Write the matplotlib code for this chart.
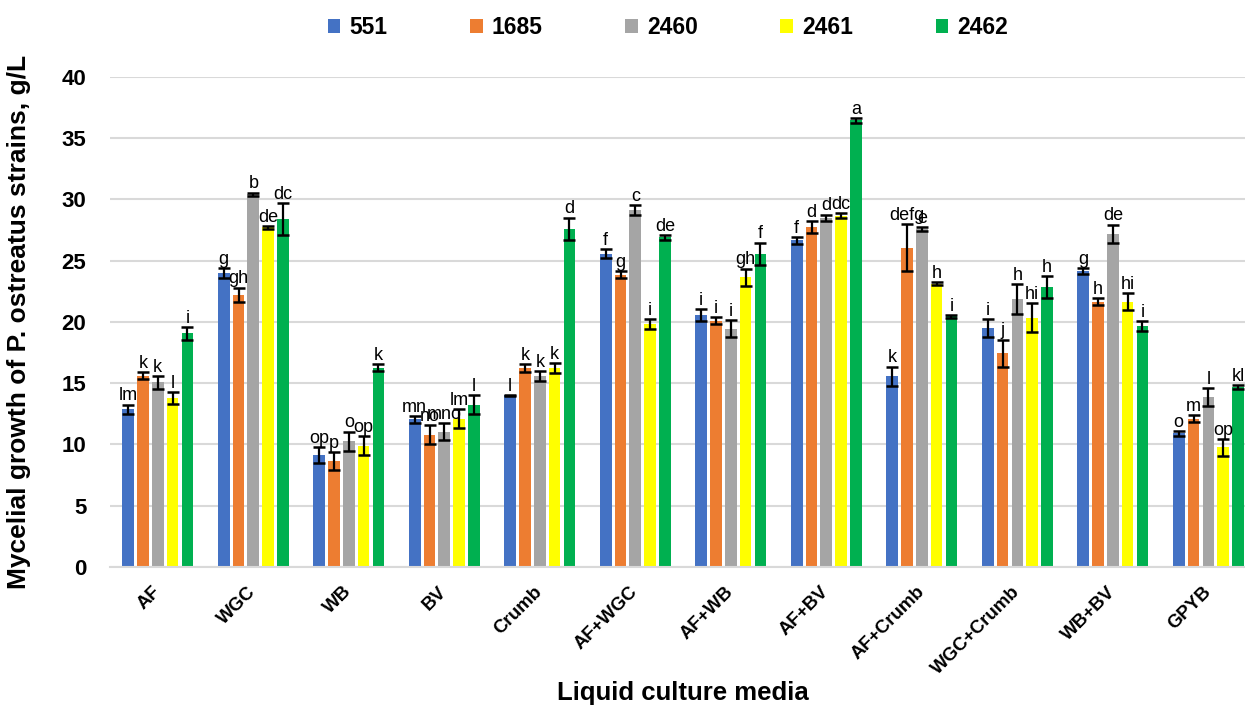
import numpy as np
import matplotlib
matplotlib.use("Agg")
import matplotlib.pyplot as plt
from matplotlib.patches import Patch

plt.rcParams['font.family'] = ['Liberation Sans', 'DejaVu Sans']

media = ["AF", "WGC", "WB", "BV", "Crumb", "AF+WGC", "AF+WB", "AF+BV",
         "AF+Crumb", "WGC+Crumb", "WB+BV", "GPYB"]
strains = ["551", "1685", "2460", "2461", "2462"]
colors = ["#4472C4", "#ED7D31", "#A5A5A5", "#FFFF00", "#00B050"]

# Mean mycelial growth (g/L) per strain across the media
growth_551 = [12.85, 24.0, 9.1, 12.05, 14.0, 25.55, 20.55, 26.65, 15.55, 19.5, 24.15, 10.9]
growth_1685 = [15.6, 22.2, 8.65, 10.8, 16.25, 23.85, 20.1, 27.75, 26.05, 17.45, 21.65, 12.1]
growth_2460 = [15.05, 30.4, 10.25, 11.05, 15.6, 29.15, 19.45, 28.5, 27.55, 21.85, 27.2, 13.85]
growth_2461 = [13.8, 27.7, 9.9, 12.1, 16.2, 19.8, 23.65, 28.65, 23.1, 20.35, 21.65, 9.75]
growth_2462 = [19.05, 28.4, 16.25, 13.25, 27.6, 26.9, 25.55, 36.45, 20.45, 22.85, 19.65, 14.7]

# Standard deviations
sd_551 = [0.4, 0.4, 0.65, 0.27, 0.05, 0.38, 0.5, 0.27, 0.8, 0.72, 0.25, 0.2]
sd_1685 = [0.3, 0.6, 0.7, 0.8, 0.33, 0.3, 0.3, 0.5, 1.9, 1.1, 0.3, 0.27]
sd_2460 = [0.5, 0.15, 0.8, 0.7, 0.4, 0.4, 0.7, 0.25, 0.15, 1.2, 0.73, 0.73]
sd_2461 = [0.5, 0.12, 0.8, 0.75, 0.4, 0.4, 0.7, 0.2, 0.12, 1.2, 0.7, 0.7]
sd_2462 = [0.5, 1.3, 0.3, 0.8, 0.9, 0.2, 0.92, 0.2, 0.12, 0.9, 0.4, 0.16]

# Significance groups (Duncan letters)
letters_551 = ["lm", "g", "op", "mn", "l", "f", "i", "f", "k", "i", "g", "o"]
letters_1685 = ["k", "gh", "p", "no", "k", "g", "i", "d", "defg", "j", "h", "m"]
letters_2460 = ["k", "b", "o", "mno", "k", "c", "i", "d", "e", "h", "de", "l"]
letters_2461 = ["l", "de", "op", "lm", "k", "i", "gh", "dc", "h", "hi", "hi", "op"]
letters_2462 = ["i", "dc", "k", "l", "d", "de", "f", "a", "i", "h", "i", "kl"]

series = [growth_551, growth_1685, growth_2460, growth_2461, growth_2462]
errors = [sd_551, sd_1685, sd_2460, sd_2461, sd_2462]
letters = [letters_551, letters_1685, letters_2460, letters_2461, letters_2462]

fig = plt.figure(figsize=(12.45, 7.08), dpi=100)
ax = fig.add_axes([0.0884, 0.1992, 0.9205, 0.6925])

x = np.arange(len(media))
step = 0.155
width = 0.122

for i, (vals, errs, labs, col) in enumerate(zip(series, errors, letters, colors)):
    pos = x + (i - 2) * step
    ax.bar(pos, vals, width=width, color=col, zorder=2)
    ax.errorbar(pos, vals, yerr=errs, fmt='none', ecolor='black',
                elinewidth=1.6, capsize=4.3, capthick=1.8, zorder=3)
    for px, v, e, t in zip(pos, vals, errs, labs):
        ax.annotate(t, (px, v + e), xytext=(0, 3), textcoords='offset points',
                    ha='center', va='baseline', fontsize=13, color='black',
                    zorder=4)

ax.set_xlim(-0.5, len(media) - 0.5)
ax.set_ylim(0, 40)
ax.set_yticks(np.arange(0, 41, 5))
ax.yaxis.grid(True, color='#D9D9D9', linewidth=1.5, zorder=0)
ax.set_axisbelow(True)
for s in ['top', 'right', 'left']:
    ax.spines[s].set_visible(False)
ax.spines['bottom'].set_color('#D9D9D9')
ax.spines['bottom'].set_linewidth(1.5)

ax.tick_params(axis='y', length=0, pad=17, labelsize=16)
ax.tick_params(axis='x', length=0, pad=16, labelsize=13.5)
for lbl in ax.get_yticklabels():
    lbl.set_fontweight('bold')
ax.set_xticks(x)
ax.set_xticklabels(media, rotation=45, ha='right', va='center',
                   rotation_mode='anchor', fontweight='bold')

ax.set_ylabel("Mycelial growth of P. ostreatus strains, g/L",
              fontsize=19, fontweight='bold', labelpad=22)
ax.set_xlabel("Liquid culture media", fontsize=18.5, fontweight='bold',
              labelpad=8)
ax.xaxis.set_label_coords((683 - 110) / 1146, -(693 - 567) / 490.3)
ax.xaxis.label.set_va('center')

handles = [Patch(facecolor=c, edgecolor='none') for c in colors]
fig.legend(handles, strains, loc='center', bbox_to_anchor=(668 / 1245, 1 - 28 / 708),
           ncol=5, frameon=False, prop={'weight': 'bold', 'size': 16.5},
           handlelength=0.55, handleheight=0.55, handletextpad=0.4,
           columnspacing=3.6)

fig.savefig("out.png", dpi=100)
